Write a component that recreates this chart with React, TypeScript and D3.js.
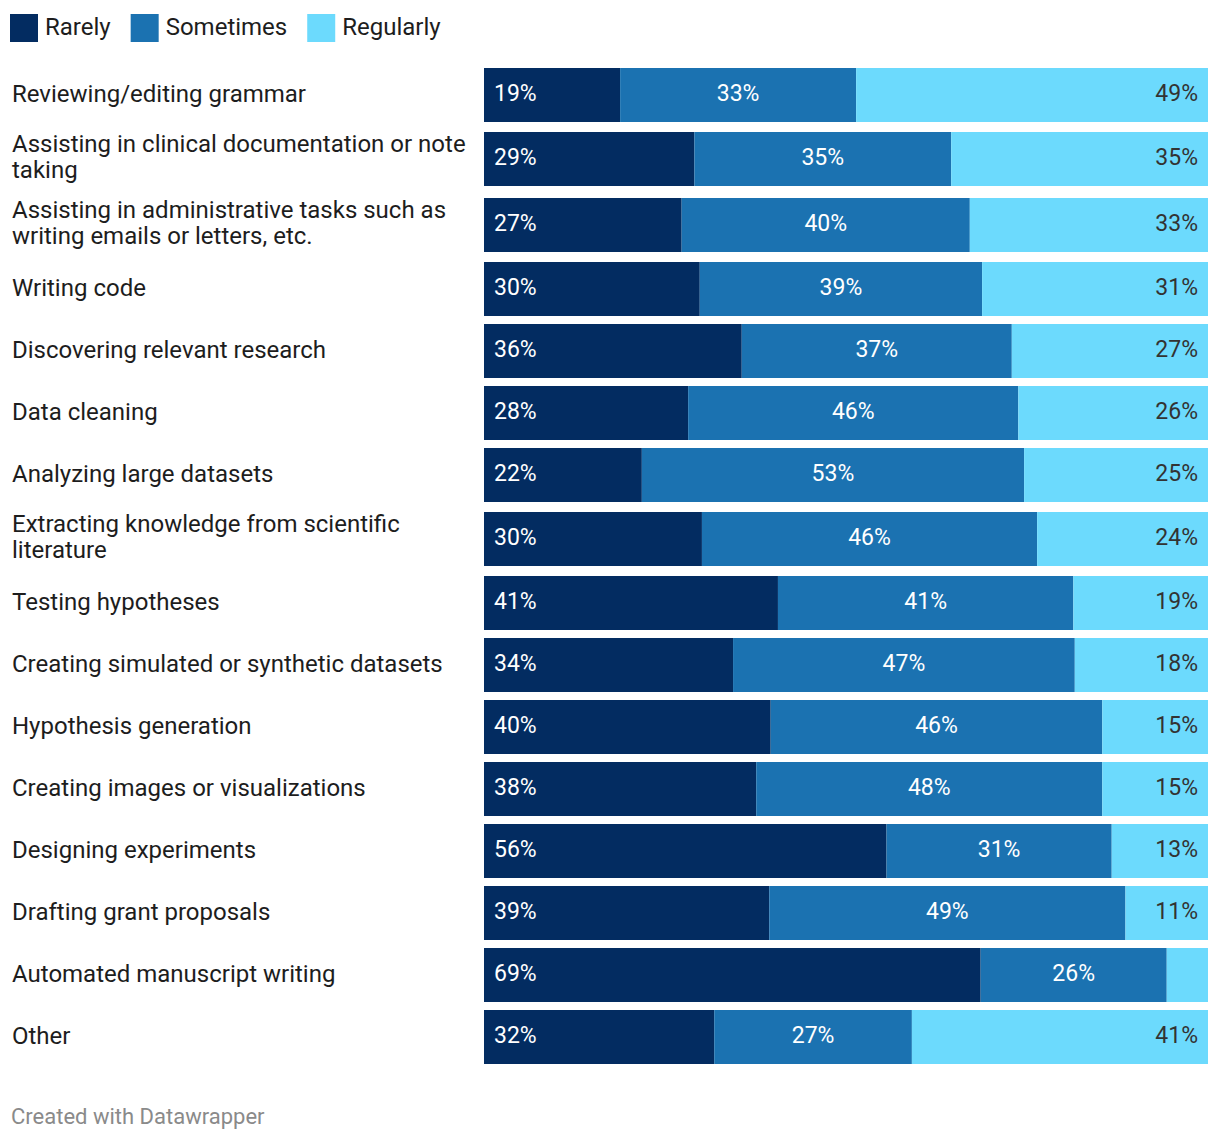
import React, { useMemo } from "react";
import * as d3 from "d3";

const categories = [
  "Reviewing/editing grammar",
  "Assisting in clinical documentation or note taking",
  "Assisting in administrative tasks such as writing emails or letters, etc.",
  "Writing code",
  "Discovering relevant research",
  "Data cleaning",
  "Analyzing large datasets",
  "Extracting knowledge from scientific literature",
  "Testing hypotheses",
  "Creating simulated or synthetic datasets",
  "Hypothesis generation",
  "Creating images or visualizations",
  "Designing experiments",
  "Drafting grant proposals",
  "Automated manuscript writing",
  "Other",
];

const seriesNames = ["Rarely", "Sometimes", "Regularly"];

const rarely = [18.8, 29.0, 27.3, 29.8, 35.6, 28.2, 21.8, 30.1, 40.6, 34.4, 39.6, 37.6, 55.6, 39.4, 68.6, 31.8];
const sometimes = [32.6, 35.4, 39.8, 39.0, 37.3, 45.6, 52.8, 46.3, 40.8, 47.2, 45.8, 47.8, 31.1, 49.2, 25.7, 27.3];
const regularly = [48.6, 35.4, 32.9, 31.2, 27.1, 26.2, 25.4, 23.6, 18.6, 18.4, 14.6, 14.6, 13.3, 11.4, 5.7, 40.9];

const colors = ["#032c61", "#1b72b1", "#6cdafd"];
const labelColors = ["#ffffff", "#ffffff", "#333333"];

const FONT = "Roboto, 'Noto Sans', sans-serif";
const FS = 24;
const VFS = 23;

let ctx: CanvasRenderingContext2D | null = null;
function measure(text: string, size = FS) {
  if (!ctx) ctx = document.createElement("canvas").getContext("2d");
  if (!ctx) return text.length * size * 0.5;
  ctx.font = `${size}px Roboto`;
  return ctx.measureText(text).width;
}

function wrap(text: string, maxW: number) {
  const words = text.split(" ");
  const lines: string[] = [];
  let cur = "";
  for (const w of words) {
    const t = cur ? cur + " " + w : w;
    if (measure(t) > maxW && cur) {
      lines.push(cur);
      cur = w;
    } else cur = t;
  }
  if (cur) lines.push(cur);
  return lines;
}

export default function App() {
  const W = 1220;
  const H = 1140;
  const barLeft = 484;
  const barRight = 1208;
  const barH = 54;
  const gap = 8;
  const lineH = 26;
  const top0 = 68;

  const data = categories.map((c, i) => ({
    category: c,
    Rarely: rarely[i],
    Sometimes: sometimes[i],
    Regularly: regularly[i],
  }));

  const stacked = d3.stack<any>().keys(seriesNames).offset(d3.stackOffsetExpand)(data);
  const x = d3.scaleLinear().domain([0, 1]).range([barLeft, barRight]);

  const layout = useMemo(() => {
    let y = top0;
    return categories.map((c) => {
      const lines = wrap(c, 462);
      const rowH = Math.max(barH, lines.length * lineH + 6);
      const rowTop = y;
      y += rowH + gap;
      return { lines, rowTop, rowH, barY: rowTop + (rowH - barH) / 2 };
    });
  }, []);

  let lx = 10;
  const legendItems = seriesNames.map((s, i) => {
    const item = { name: s, x: lx, color: colors[i] };
    lx = lx + 35 + measure(s) + 20;
    return item;
  });

  return (
    <svg
      width={W}
      height={H}
      style={{ position: "absolute", left: 0, top: 0, background: "#fff" }}
      fontFamily={FONT}
    >
      <g>
        {legendItems.map((it) => (
          <g key={it.name}>
            <rect x={it.x} y={14} width={28} height={28} fill={it.color} />
            <text x={it.x + 35} y={34.5} fontSize={FS} fill="#1d1d1d">
              {it.name}
            </text>
          </g>
        ))}
      </g>
      {layout.map((row, i) => {
        const cy = row.barY + barH / 2;
        const n = row.lines.length;
        const base = n > 1 ? 5.7 : 6.7;
        return (
          <g key={categories[i]}>
            {row.lines.map((ln, k) => (
              <text
                key={k}
                x={12}
                y={cy + base + (k - (n - 1) / 2) * lineH}
                fontSize={FS}
                fill="#1d1d1d"
              >
                {ln}
              </text>
            ))}
          </g>
        );
      })}
      {stacked.map((series, si) => (
        <g key={series.key}>
          {series.map((d, i) => {
            const x0 = x(d[0]);
            const x1 = x(d[1]);
            const y = layout[i].barY;
            const raw = [rarely, sometimes, regularly][si][i];
            const label = `${Math.round(raw)}%`;
            const w = x1 - x0;
            const show = w > measure(label, VFS) + 20;
            let tx = x0 + 10;
            let anchor: "start" | "middle" | "end" = "start";
            if (si === 1) {
              tx = (x0 + x1) / 2;
              anchor = "middle";
            } else if (si === 2) {
              tx = x1 - 10;
              anchor = "end";
            }
            return (
              <g key={i}>
                <rect x={x0} y={y} width={w} height={barH} fill={colors[si]} />
                {show && (
                  <text
                    x={tx}
                    y={y + barH / 2 + 5.8}
                    textAnchor={anchor}
                    fontSize={VFS}
                    fill={labelColors[si]}
                  >
                    {label}
                  </text>
                )}
              </g>
            );
          })}
        </g>
      ))}
      <text x={11} y={1124} fontSize={22} fill="#8a8a8a">
        Created with Datawrapper
      </text>
    </svg>
  );
}
